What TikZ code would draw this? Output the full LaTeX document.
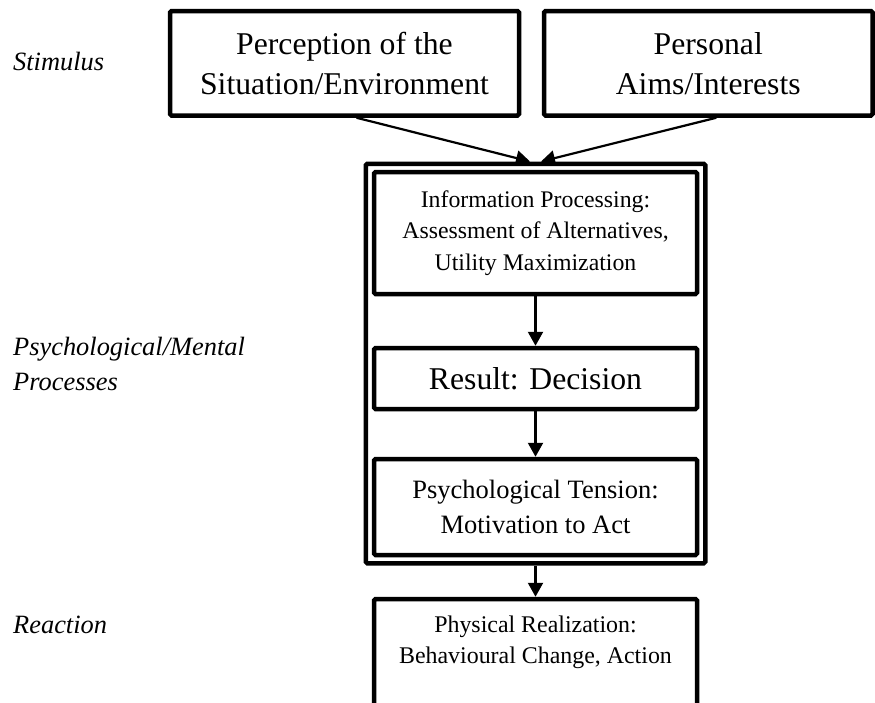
\documentclass[tikz,border=0pt]{standalone}
\usepackage{fontspec}
\setmainfont{Liberation Serif}
\usetikzlibrary{arrows.meta,fit}

\tikzset{
	box/.style={draw, line width=4.5pt, rounded corners=1.5pt, align=center, inner sep=0pt},
	frame/.style={draw, line width=4.5pt, rounded corners=1.5pt, inner sep=6pt},
	arrow/.style={line width=2.2pt, -{Triangle[length=14pt,width=15pt]}},
	phase/.style={inner sep=0pt, align=left, font=\fontsize{26.4}{35}\selectfont\itshape}
}

\begin{document}
\begin{tikzpicture}[x=1pt,y=-1pt]
	\clip (0,0) rectangle (875,702);
	
	% Phases
	\node[phase, anchor=base west] (stimulus) at (13,70) {Stimulus};
	\node[phase, anchor=west] (mentalphase) at (13,363.5) {Psychological/Mental\\Processes};
	\node[phase, anchor=base west] (reaction) at (13,633) {Reaction};
	
	% Stimulus
	\node[box, minimum width=349pt, minimum height=104.5pt, font=\fontsize{31.7}{40}\selectfont] (perception) at (344.5,63.25) {Perception of the\\Situation/Environment};
	\node[box, minimum width=328.5pt, minimum height=104.5pt, font=\fontsize{31.7}{40}\selectfont] (aims) at (708.25,63.25) {Personal\\Aims/Interests};
	
	% Mental processes
	\node[box, minimum width=323pt, minimum height=122pt, font=\fontsize{23.8}{31.5}\selectfont] (info) at (535.5,233) {Information Processing:\\Assessment of Alternatives,\\Utility Maximization};
	\node[box, minimum width=323pt, minimum height=61pt, font=\fontsize{31.7}{40}\selectfont] (decision) at (535.5,378.5) {Result: Decision};
	\node[box, minimum width=323pt, minimum height=96pt, font=\fontsize{26.5}{35}\selectfont] (tension) at (535.5,507) {Psychological Tension:\\Motivation to Act};
	\node[frame, fit=(info)(tension)] (mental) {};
	
	% Reaction
	\node[box, anchor=north, minimum width=323pt, inner ysep=17pt, text depth=80pt, font=\fontsize{23.9}{31}\selectfont] (realization) at (535.5,596.75) {Physical Realization:\\Behavioural Change, Action};
	
	% Arrows
	\draw[arrow] ([xshift=12pt]perception.south) -- ([xshift=-5.5pt]mental.north);
	\draw[arrow] ([xshift=8pt]aims.south) -- ([xshift=5.5pt]mental.north);
	\draw[arrow] (info) -- (decision);
	\draw[arrow] (decision) -- (tension);
	\draw[arrow] (mental) -- (realization);
	
\end{tikzpicture}
\end{document}
